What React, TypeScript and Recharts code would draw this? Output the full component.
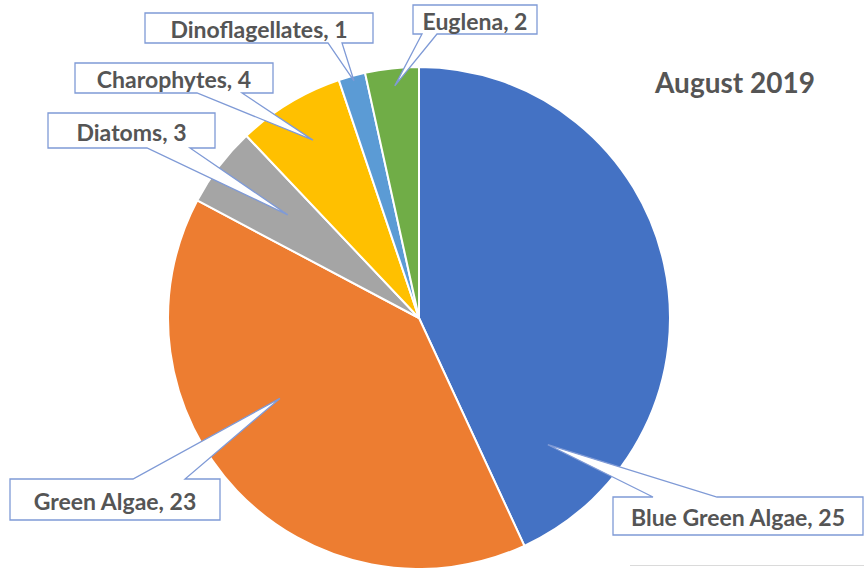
import { Pie, PieChart, Cell } from 'recharts';

const groups = ['Blue Green Algae', 'Green Algae', 'Diatoms', 'Charophytes', 'Dinoflagellates', 'Euglena'];
const counts = [25, 23, 3, 4, 1, 2];
const colors = ['#4472C4', '#ED7D31', '#A5A5A5', '#FFC000', '#5B9BD5', '#70AD47'];
const title = 'August 2019';

const data = groups.map((name, i) => ({ name, value: counts[i] }));

// callout boxes, offsets from the pie centre; tip = fraction along the slice (t) and of the radius (rf)
const callouts = [
  { x0: 194, x1: 444, y0: 179, y1: 217, side: 'top', b0: 234, b1: 298, t: 0.867, rf: 0.72 },
  { x0: -409, x1: -199, y0: 161, y1: 202, side: 'top', b0: -286, b1: -234, t: 0.594, rf: 0.64 },
  { x0: -371, x1: -204, y0: -205, y1: -170, side: 'bottom', b0: -272, b1: -229, t: 0.55, rf: 0.665 },
  { x0: -344, x1: -146, y0: -255, y1: -225, side: 'bottom', b0: -222, b1: -177, t: 0.51, rf: 0.825 },
  { x0: -274, x1: -46, y0: -305, y1: -275, side: 'bottom', b0: -91, b1: -77, t: 0.53, rf: 0.98 },
  { x0: -6, x1: 118, y0: -313, y1: -284, side: 'bottom', b0: 3, b1: 18, t: 0.52, rf: 0.93 },
];

const RAD = Math.PI / 180;

function Callout(props: any) {
  const { cx, cy, startAngle, endAngle, outerRadius, index, name, value } = props;
  const c = callouts[index];
  const a = (startAngle + c.t * (endAngle - startAngle)) * RAD;
  const tx = cx + outerRadius * c.rf * Math.cos(a);
  const ty = cy - outerRadius * c.rf * Math.sin(a);
  const x0 = cx + c.x0;
  const x1 = cx + c.x1;
  const y0 = cy + c.y0;
  const y1 = cy + c.y1;
  const b0 = cx + c.b0;
  const b1 = cx + c.b1;
  const d =
    c.side === 'top'
      ? `M${x0},${y0} L${b0},${y0} L${tx},${ty} L${b1},${y0} L${x1},${y0} L${x1},${y1} L${x0},${y1} Z`
      : `M${x0},${y0} L${x1},${y0} L${x1},${y1} L${b1},${y1} L${tx},${ty} L${b0},${y1} L${x0},${y1} Z`;
  return (
    <g>
      <path d={d} fill="#ffffff" stroke="#7F9AD6" strokeWidth={1.3} />
      <text
        x={(x0 + x1) / 2}
        y={(y0 + y1) / 2 + 1}
        textAnchor="middle"
        dominantBaseline="central"
        fill="#555555"
        fontSize={23}
        fontWeight={700}
        fontFamily="Lato, 'Open Sans', sans-serif"
      >
        {`${name}, ${value}`}
      </text>
    </g>
  );
}

export default function App() {
  return (
    <div style={{ position: 'absolute', left: 0, top: 0, width: 864, height: 568, background: '#ffffff', overflow: 'hidden' }}>
      <PieChart width={864} height={568} margin={{ top: 0, right: 0, bottom: 0, left: 0 }}>
        <Pie
          data={data}
          dataKey="value"
          nameKey="name"
          cx={419}
          cy={318}
          outerRadius={251}
          startAngle={90}
          endAngle={-270}
          stroke="#ffffff"
          strokeWidth={2}
          labelLine={false}
          label={Callout}
          isAnimationActive={false}
        >
          {data.map((d, i) => (
            <Cell key={d.name} fill={colors[i]} />
          ))}
        </Pie>
        <text
          x={735}
          y={82}
          textAnchor="middle"
          dominantBaseline="central"
          fill="#555555"
          fontSize={28}
          fontWeight={700}
          fontFamily="Lato, 'Open Sans', sans-serif"
        >
          {title}
        </text>
      </PieChart>
      <div style={{ position: 'absolute', left: 630, top: 565, width: 234, height: 0, borderTop: '1px solid #DADADA' }} />
    </div>
  );
}
